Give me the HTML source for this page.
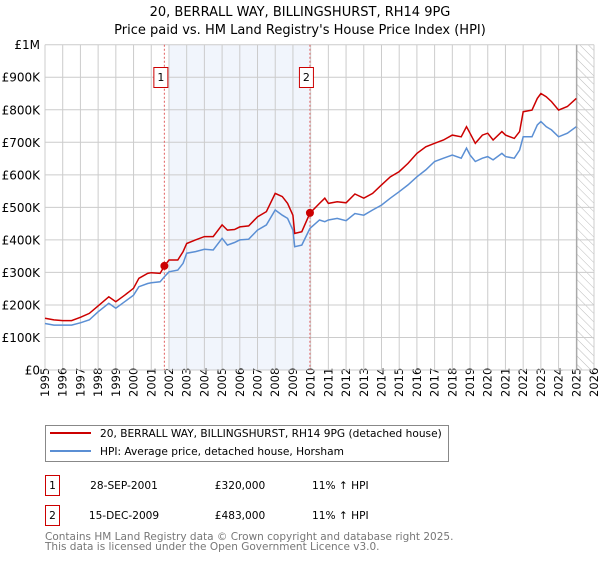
<!DOCTYPE html>
<html><head><meta charset="utf-8"><style>
body{margin:0;background:#fff;font-family:"DejaVu Sans","Liberation Sans",sans-serif;}
svg text{font-family:"DejaVu Sans","Liberation Sans",sans-serif;}
</style></head><body>
<svg width="600" height="560" viewBox="0 0 600 560" xmlns="http://www.w3.org/2000/svg">
<defs><pattern id="hatch" width="6" height="6" patternUnits="userSpaceOnUse" patternTransform="rotate(-45)"><line x1="0" y1="0" x2="0" y2="6" stroke="#bbb" stroke-width="1"/></pattern></defs>
<text x="300" y="16" text-anchor="middle" font-size="13">20, BERRALL WAY, BILLINGSHURST, RH14 9PG</text>
<text x="300" y="34" text-anchor="middle" font-size="13">Price paid vs. HM Land Registry's House Price Index (HPI)</text>
<g id="plot"></g>
<g>
<rect x="45.5" y="425.5" width="403" height="36" fill="#fff" stroke="#888"/>
<line x1="50" y1="433" x2="91" y2="433" stroke="#cc0000" stroke-width="2"/>
<text x="100" y="437" font-size="10.6">20, BERRALL WAY, BILLINGSHURST, RH14 9PG (detached house)</text>
<line x1="50" y1="451" x2="91" y2="451" stroke="#5b8fd4" stroke-width="2"/>
<text x="100" y="455" font-size="10.6">HPI: Average price, detached house, Horsham</text>
</g>
<g font-size="10.6">
<rect x="45.5" y="475.5" width="14" height="20" fill="#fff" stroke="#cc0000"/>
<text x="52.5" y="489" text-anchor="middle">1</text>
<text x="124" y="489" text-anchor="middle">28-SEP-2001</text>
<text x="240" y="489" text-anchor="middle">£320,000</text>
<text x="312" y="489">11% ↑ HPI</text>
<rect x="45.5" y="505.5" width="14" height="20" fill="#fff" stroke="#cc0000"/>
<text x="52.5" y="519" text-anchor="middle">2</text>
<text x="124" y="519" text-anchor="middle">15-DEC-2009</text>
<text x="240" y="519" text-anchor="middle">£483,000</text>
<text x="312" y="519">11% ↑ HPI</text>
</g>
<text x="45" y="540" font-size="10.5" fill="#777">Contains HM Land Registry data © Crown copyright and database right 2025.</text>
<text x="45" y="550" font-size="10.5" fill="#777">This data is licensed under the Open Government Licence v3.0.</text>
</svg>
<script>
const hpiYears=[1995,1995.5,1996,1996.5,1997,1997.5,1998,1998.6,1999,1999.5,2000,2000.3,2000.8,2001,2001.5,2001.75,2002,2002.5,2002.8,2003,2003.5,2004,2004.5,2005,2005.3,2005.7,2006,2006.5,2007,2007.5,2008,2008.4,2008.7,2009,2009.1,2009.5,2009.96,2010.5,2010.8,2011,2011.5,2012,2012.5,2013,2013.5,2014,2014.5,2015,2015.5,2016,2016.5,2017,2017.5,2018,2018.5,2018.8,2019,2019.3,2019.7,2020,2020.3,2020.8,2021,2021.5,2021.8,2022,2022.5,2022.8,2023,2023.3,2023.6,2024,2024.5,2025];
const hpiValues=[143,138,138,138,145,154,179,205,190,210,230,256,266,268,271,287,302,307,328,359,364,371,369,405,384,392,400,402,430,446,492,476,466,430,379,384,435,461,456,461,466,459,481,476,492,507,528,548,569,594,615,641,651,661,651,682,661,641,651,656,646,666,656,651,676,717,717,753,764,748,738,717,728,748];
const priceValues=[159,154,152,152,162,174,197,225,210,230,251,282,297,299,297,320,338,338,364,389,400,410,410,446,430,432,440,443,471,487,543,533,512,476,420,425,482,512,528,512,517,514,541,528,543,569,594,610,635,666,686,697,707,722,717,748,728,697,722,728,707,733,722,712,733,794,799,835,850,840,825,799,810,835];
const yTicks=[0,100,200,300,400,500,600,700,800,900,1000];
const yTickLabels=["£0","£100K","£200K","£300K","£400K","£500K","£600K","£700K","£800K","£900K","£1M"];
const sales=[{label:"1",year:2001.74,value:320},{label:"2",year:2009.96,value:483}];
const x0=45,x1=594,y0=370,y1=44.7,yr0=1995,yr1=2026;
const X=v=>x0+(v-yr0)/(yr1-yr0)*(x1-x0);
const Y=v=>y0-(v/1000)*(y0-y1);
const NS="http://www.w3.org/2000/svg";
const g=document.getElementById('plot');
function mk(t,a){const e=document.createElementNS(NS,t);for(const k in a)e.setAttribute(k,a[k]);g.appendChild(e);return e;}
let e=mk('rect',{x:X(2002),y:y1,width:X(2009.96)-X(2002),height:y0-y1,fill:'#eef2fb',opacity:0.8});


e=mk('rect',{x:X(2025.03),y:y1,width:x1-X(2025.03),height:y0-y1,fill:'url(#hatch)'});


for(let yr=yr0;yr<=yr1;yr++){
 e=mk('line',{x1:X(yr),x2:X(yr),y1:y1,y2:y0,stroke:'#ccc','stroke-width':1});
 
 
 e=mk('text',{x:0,y:0,'font-size':11.5,transform:`translate(${X(yr)+4},${y0+27}) rotate(-90)`});
 e.textContent=yr;
 
 
}
yTicks.forEach((t,i)=>{
 e=mk('line',{x1:x0,x2:x1,y1:Y(t),y2:Y(t),stroke:'#ccc','stroke-width':1});
 
 
 e=mk('text',{x:40,y:Y(t)+4.5,'text-anchor':'end','font-size':12});
 e.textContent=yTickLabels[i];
 
 
});
e=mk('line',{x1:X(2025.03),x2:X(2025.03),y1:y1,y2:y0,stroke:'#999','stroke-width':1});


sales.forEach(s=>{
 e=mk('line',{x1:X(s.year),x2:X(s.year),y1:y1,y2:y0,stroke:'#e06060','stroke-width':1,'stroke-dasharray':'2,2'});
 
 
});
const pts=a=>hpiYears.map((y,i)=>X(y).toFixed(1)+','+Y(a[i]).toFixed(1)).join(' ');
e=mk('polyline',{points:pts(hpiValues),fill:'none',stroke:'#5b8fd4','stroke-width':1.5});


e=mk('polyline',{points:pts(priceValues),fill:'none',stroke:'#cc0000','stroke-width':1.5});


sales.forEach(s=>{
 e=mk('circle',{cx:X(s.year),cy:Y(s.value),r:4,fill:'#cc0000'});
 
 
 e=mk('rect',{x:X(s.year)-10.5,y:67.5,width:14,height:20,fill:'#fff',stroke:'#cc0000'});
 
 
 e=mk('text',{x:X(s.year)-3.5,y:81,'text-anchor':'middle','font-size':11});
 e.textContent=s.label;
 
 
});
</script>
</body></html>
